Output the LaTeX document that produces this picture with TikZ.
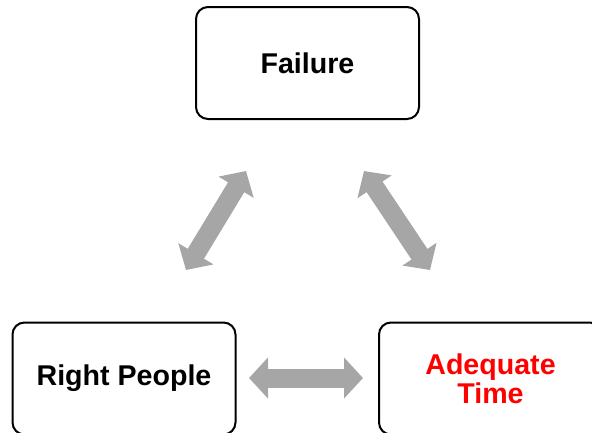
\documentclass[tikz,border=0pt]{standalone}
\usepackage{fontspec}
\setmainfont{Liberation Sans}
\usetikzlibrary{arrows.meta}
\definecolor{linkgray}{RGB}{166,166,166}
\definecolor{alertred}{RGB}{255,0,0}
\begin{document}
\begin{tikzpicture}[x=1pt,y=-1pt,
  box/.style={draw=black, line width=2pt, rounded corners=12pt,
    minimum width=223pt, minimum height=112pt, inner sep=0pt,
    font=\bfseries\fontsize{28.6}{29}\selectfont, align=center},
  link/.style={draw=linkgray, line width=19pt,
    {Triangle[length=19pt,width=40pt]}-{Triangle[length=19pt,width=40pt]}}]
\useasboundingbox (0,0) rectangle (592,432);

% the three boxes
\node[box] (fail) at (307.5,63) {Failure};
\node[box] (people) at (124,378.5) {Right People};
\node[box, text=alertred] (time) at (490.5,378.5) {Adequate\\Time};

% ends of the double arrows
\coordinate (pf1) at (186,270);
\coordinate (pf2) at (246,171);
\coordinate (ft1) at (364,171);
\coordinate (ft2) at (430,270);
\coordinate (pt1) at (249,378);
\coordinate (pt2) at (363,378);

% double arrows between the boxes
\draw[link] (pf1) -- (pf2);
\draw[link] (ft1) -- (ft2);
\draw[link] (pt1) -- (pt2);
\end{tikzpicture}
\end{document}
